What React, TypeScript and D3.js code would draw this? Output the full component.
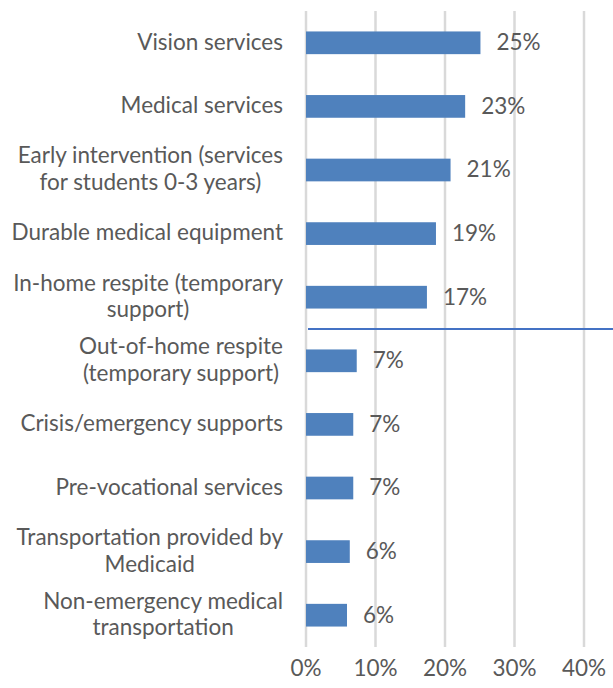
import React, { useEffect, useRef } from "react";
import * as d3 from "d3";

// survey categories, top to bottom ("\n" marks a line break in the label)
const categories = [
  "Vision services",
  "Medical services",
  "Early intervention (services\nfor students 0-3 years)",
  "Durable medical equipment",
  "In-home respite (temporary\nsupport)",
  "Out-of-home respite\n(temporary support)",
  "Crisis/emergency supports",
  "Pre-vocational services",
  "Transportation provided by\nMedicaid",
  "Non-emergency medical\ntransportation",
];

// share of respondents
const values = [0.251, 0.229, 0.208, 0.187, 0.174, 0.073, 0.068, 0.068, 0.063, 0.059];

const xTicks = [0, 0.1, 0.2, 0.3, 0.4];

// the divider is drawn between these two categories
const dividerAfter = "In-home respite (temporary\nsupport)";

const W = 613;
const H = 688;
const FONT = "Lato, 'Open Sans', sans-serif";
const FS = 22.5;
const TEXT = "#595959";

export default function App() {
  const ref = useRef<SVGSVGElement>(null);

  useEffect(() => {
    const svg = d3.select(ref.current);
    svg.selectAll("*").remove();

    const plot = { left: 306, right: 584, top: 11, bottom: 647 };

    const x = d3.scaleLinear().domain([0, 0.4]).range([plot.left, plot.right]);
    const y = d3
      .scaleBand<string>()
      .domain(categories)
      .range([plot.top, plot.bottom])
      .paddingInner(0.643)
      .paddingOuter(0.3215);

    const pct = d3.format(".0%");

    // gridlines
    svg
      .append("g")
      .selectAll("line")
      .data(xTicks)
      .join("line")
      .attr("x1", (d) => x(d))
      .attr("x2", (d) => x(d))
      .attr("y1", plot.top)
      .attr("y2", plot.bottom)
      .attr("stroke", "#d9d9d9")
      .attr("stroke-width", 2.5);

    // tick labels
    svg
      .append("g")
      .selectAll("text")
      .data(xTicks)
      .join("text")
      .attr("x", (d) => x(d))
      .attr("y", 676)
      .attr("text-anchor", "middle")
      .attr("font-family", FONT)
      .attr("font-size", FS)
      .attr("fill", TEXT)
      .text((d) => pct(d));

    // bars
    svg
      .append("g")
      .selectAll("rect")
      .data(values)
      .join("rect")
      .attr("x", x(0))
      .attr("y", (d, i) => y(categories[i])!)
      .attr("width", (d) => x(d) - x(0))
      .attr("height", y.bandwidth())
      .attr("fill", "#4f81bd");

    // value labels
    svg
      .append("g")
      .selectAll("text")
      .data(values)
      .join("text")
      .attr("x", (d) => x(d) + 16)
      .attr("y", (d, i) => y(categories[i])! + y.bandwidth() / 2)
      .attr("dy", "0.33em")
      .attr("font-family", FONT)
      .attr("font-size", FS)
      .attr("fill", TEXT)
      .text((d) => pct(d));

    // category labels: lines centred on each other, block right aligned
    const lineH = 26.7;
    const labelRight = 283;
    categories.forEach((c) => {
      const lines = c.split("\n");
      const cy = y(c)! + y.bandwidth() / 2;
      const g = svg.append("g");
      const texts = g
        .selectAll("text")
        .data(lines)
        .join("text")
        .attr("y", (d, i) => cy + (i - (lines.length - 1) / 2) * lineH)
        .attr("dy", "0.3em")
        .attr("text-anchor", "middle")
        .attr("font-family", FONT)
        .attr("font-size", FS)
        .attr("fill", TEXT)
        .text((d) => d);
      let maxW = 0;
      texts.each(function () {
        maxW = Math.max(maxW, (this as SVGTextElement).getComputedTextLength());
      });
      texts.attr("x", labelRight - maxW / 2);
    });

    // divider line between the two groups
    const i = categories.indexOf(dividerAfter);
    const dy = (y(categories[i])! + y(categories[i + 1])! + y.bandwidth()) / 2;
    svg
      .append("line")
      .attr("x1", x(0) + 2)
      .attr("x2", W)
      .attr("y1", dy)
      .attr("y2", dy)
      .attr("stroke", "#4472c4")
      .attr("stroke-width", 2);
  }, []);

  return (
    <svg
      ref={ref}
      width={W}
      height={H}
      style={{ position: "absolute", left: 0, top: 0, background: "#fff" }}
    />
  );
}
